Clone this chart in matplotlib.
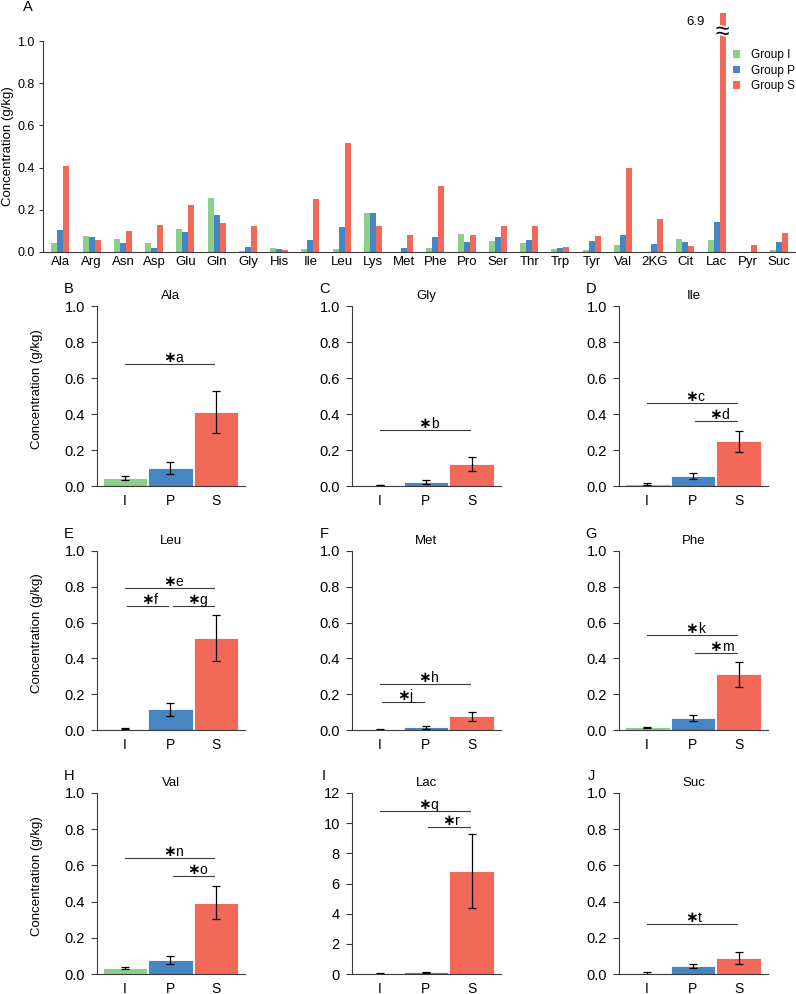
import matplotlib
matplotlib.use("Agg")
import matplotlib.pyplot as plt
import matplotlib.patheffects as pe
import numpy as np

plt.rcParams['font.family'] = ['Liberation Sans', 'DejaVu Sans']

# ---------------- data: panel A ----------------
categories = ['Ala', 'Arg', 'Asn', 'Asp', 'Glu', 'Gln', 'Gly', 'His', 'Ile', 'Leu', 'Lys', 'Met',
              'Phe', 'Pro', 'Ser', 'Thr', 'Trp', 'Tyr', 'Val', '2KG', 'Cit', 'Lac', 'Pyr', 'Suc']
group_I = [0.044, 0.076, 0.060, 0.041, 0.110, 0.254, 0.003, 0.017, 0.014, 0.013, 0.183, 0.0,
           0.017, 0.085, 0.052, 0.043, 0.013, 0.011, 0.032, 0.0, 0.060, 0.055, 0.0, 0.008]
group_P = [0.103, 0.070, 0.041, 0.020, 0.096, 0.174, 0.024, 0.013, 0.055, 0.117, 0.183, 0.017,
           0.070, 0.046, 0.070, 0.057, 0.017, 0.054, 0.079, 0.039, 0.046, 0.140, 0.002, 0.046]
group_S = [0.410, 0.057, 0.098, 0.130, 0.224, 0.136, 0.123, 0.009, 0.250, 0.515, 0.123, 0.079,
           0.313, 0.079, 0.122, 0.125, 0.025, 0.077, 0.397, 0.156, 0.027, 6.9, 0.035, 0.088]
series_labels = ['Group I', 'Group P', 'Group S']

# ---------------- data: panels B-J ----------------
panel_letters = ['B', 'C', 'D', 'E', 'F', 'G', 'H', 'I', 'J']
panel_names = ['Ala', 'Gly', 'Ile', 'Leu', 'Met', 'Phe', 'Val', 'Lac', 'Suc']
group_ticks = ['I', 'P', 'S']
mean_I = [0.045, 0.005, 0.012, 0.008, 0.002, 0.016, 0.033, 0.05, 0.006]
mean_P = [0.102, 0.024, 0.055, 0.115, 0.016, 0.068, 0.078, 0.10, 0.046]
mean_S = [0.410, 0.122, 0.248, 0.514, 0.078, 0.312, 0.395, 6.80, 0.088]
err_I = [0.012, 0.002, 0.005, 0.004, 0.001, 0.003, 0.007, 0.03, 0.004]
err_P = [0.033, 0.012, 0.015, 0.035, 0.008, 0.017, 0.020, 0.05, 0.011]
err_S = [0.117, 0.038, 0.060, 0.127, 0.025, 0.069, 0.090, 2.45, 0.035]
sig_marks = [
    [(0, 2, 0.680, 'a')],
    [(0, 2, 0.312, 'b')],
    [(0, 2, 0.460, 'c'), (1, 2, 0.360, 'd')],
    [(0, 2, 0.792, 'e'), (0, 1, 0.692, 'f'), (1, 2, 0.692, 'g')],
    [(0, 2, 0.258, 'h'), (0, 1, 0.156, 'j')],
    [(0, 2, 0.532, 'k'), (1, 2, 0.430, 'm')],
    [(0, 2, 0.639, 'n'), (1, 2, 0.540, 'o')],
    [(0, 2, 10.78, 'q'), (1, 2, 9.77, 'r')],
    [(0, 2, 0.276, 't')],
]
y_max = [1.0, 1.0, 1.0, 1.0, 1.0, 1.0, 1.0, 12.0, 1.0]

colors = ['#8ccf88', '#4586c3', '#f2695a']
spine_c = '#3a3a3a'

W, H = 796, 994
fig = plt.figure(figsize=(W / 100, H / 100), dpi=100)


def px_axes(l, r, top, bottom):
    return fig.add_axes([l / W, 1 - bottom / H, (r - l) / W, (bottom - top) / H])


# ---------------- Panel A ----------------
axA = px_axes(43, 796, 13, 252)
x = np.arange(len(categories))
bw = 0.192
for k, (vals, c, lab) in enumerate(zip([group_I, group_P, group_S], colors, series_labels)):
    axA.bar(x + (k - 1) * bw, vals, width=bw, color=c, label=lab, linewidth=0)
axA.set_xlim(-0.56, 23.54)
axA.set_ylim(0, 1.133)
axA.set_yticks([0, 0.2, 0.4, 0.6, 0.8, 1.0])
axA.set_yticklabels(['0.0', '0.2', '0.4', '0.6', '0.8', '1.0'])
axA.set_xticks(x)
axA.set_xticklabels(categories)
axA.tick_params(axis='x', length=0, pad=3, labelsize=9.5)
axA.tick_params(axis='y', length=3, width=0.8, pad=3, labelsize=9, color=spine_c)
for s in ['top', 'right']:
    axA.spines[s].set_visible(False)
for s in ['left', 'bottom']:
    axA.spines[s].set_color(spine_c)
    axA.spines[s].set_linewidth(0.8)
axA.spines['left'].set_bounds(0, 1.0)
axA.set_ylabel('Concentration (g/kg)', fontsize=9.5)
axA.yaxis.set_label_coords(-0.039, 0.5 / 1.133)
lac_i = categories.index('Lac')
axA.text(lac_i + bw, 1.043, '≈', fontsize=18, ha='center', va='center', color='black',
         path_effects=[pe.withStroke(linewidth=2.5, foreground='white')])
axA.text(lac_i - 0.68, 1.09, f'{group_S[lac_i]:.1f}', fontsize=9.5, ha='center', va='center')
axA.legend(loc='upper left', bbox_to_anchor=(733 / W, 1 - 49 / H), bbox_transform=fig.transFigure,
           frameon=False, fontsize=8.5, handlelength=0.6, handleheight=0.6, handletextpad=0.9,
           labelspacing=0.3, borderpad=0, borderaxespad=0)
fig.text(28 / W, 1 - 7 / H, 'A', fontsize=10.5, ha='center', va='center')

# ---------------- Panels B-J ----------------
cols = [(97, 245), (352, 501), (619, 768)]
rows = [(306, 486), (551, 730), (793, 974)]
gx = np.arange(3)
for idx in range(9):
    r, c = divmod(idx, 3)
    l, rr = cols[c]
    t, b = rows[r]
    ax = px_axes(l, rr, t, b)
    means = [mean_I[idx], mean_P[idx], mean_S[idx]]
    errs = [err_I[idx], err_P[idx], err_S[idx]]
    ax.bar(gx, means, width=0.98, color=colors, edgecolor='white', linewidth=0.6)
    ax.errorbar(gx, means, yerr=errs, fmt='none', ecolor='black', elinewidth=0.9,
                capsize=3.2, capthick=0.9)
    ax.set_xlim(-0.615, 2.637)
    ym = y_max[idx]
    ax.set_ylim(0, ym)
    if ym > 1:
        ticks = np.arange(0, 13, 2)
        ax.set_yticks(ticks)
        ax.set_yticklabels([str(int(v)) for v in ticks])
    else:
        ticks = [0, 0.2, 0.4, 0.6, 0.8, 1.0]
        ax.set_yticks(ticks)
        ax.set_yticklabels(['0.0', '0.2', '0.4', '0.6', '0.8', '1.0'])
    ax.set_xticks(gx)
    ax.set_xticklabels(group_ticks)
    ax.tick_params(axis='x', length=0, pad=5.5, labelsize=10)
    ax.tick_params(axis='y', length=4.3, width=0.8, pad=4.5, labelsize=10.5, color=spine_c)
    for s in ['top', 'right']:
        ax.spines[s].set_visible(False)
    for s in ['left', 'bottom']:
        ax.spines[s].set_color(spine_c)
        ax.spines[s].set_linewidth(0.8)
    for (i, j, yl, lab) in sig_marks[idx]:
        x0 = i + (0.05 if j - i == 1 else 0.0)
        x1 = j - 0.05
        mid = (x0 + x1) / 2
        ax.plot([x0, x1], [yl, yl], color=spine_c, lw=0.8, clip_on=False)
        ax.annotate('∗', xy=(mid, yl), xytext=(0, 1.5), textcoords='offset points',
                    ha='center', va='baseline', fontsize=11, fontweight='bold',
                    family='DejaVu Sans', annotation_clip=False)
        ax.annotate(lab, xy=(mid, yl), xytext=(4.2, 1.5), textcoords='offset points',
                    ha='left', va='baseline', fontsize=10, annotation_clip=False)
    ax.text(0.5, 1 + 10 / (b - t), panel_names[idx], transform=ax.transAxes,
            ha='center', va='center', fontsize=9.5)
    ax.text(-28 / (rr - l), 1 + 17 / (b - t), panel_letters[idx], transform=ax.transAxes,
            ha='center', va='center', fontsize=10.5)
    if c == 0:
        ax.set_ylabel('Concentration (g/kg)', fontsize=9.5)
        ax.yaxis.set_label_coords(-54 / (rr - l), 0.54)

fig.savefig('out.png', dpi=100)
